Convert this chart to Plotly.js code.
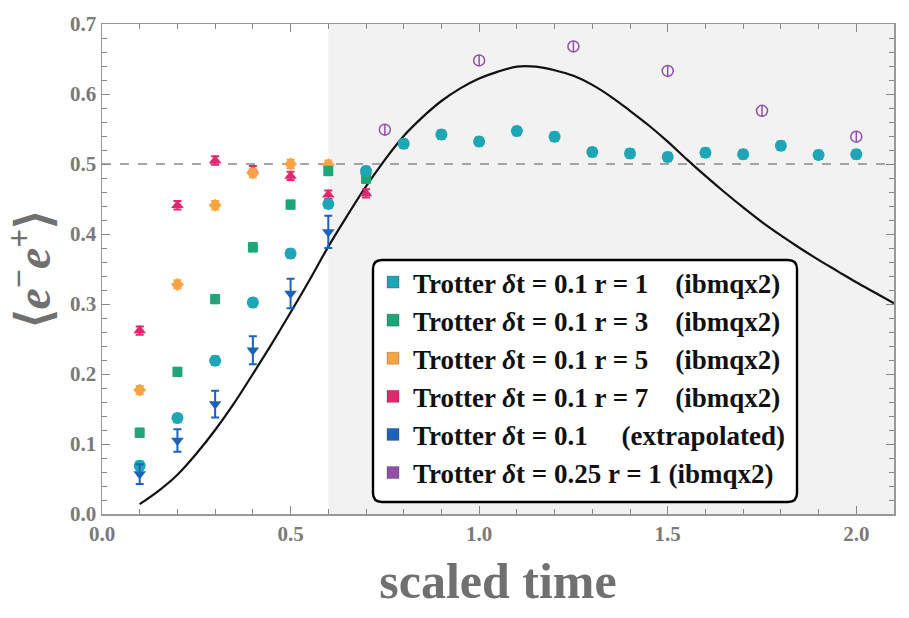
<!DOCTYPE html>
<html>
<head>
<meta charset="utf-8">
<script src="https://cdn.plot.ly/plotly-3.0.1.min.js"></script>
<style>html,body{margin:0;padding:0;background:#fff;}#chart{width:909px;height:618px;}</style>
</head>
<body>
<div id="chart"></div>
<script>
// ---- data ----
const timesR1 = [0.1,0.2,0.3,0.4,0.5,0.6,0.7,0.8,0.9,1.0,1.1,1.2,1.3,1.4,1.5,1.6,1.7,1.8,1.9,2.0];
const valsR1  = [0.069,0.137,0.219,0.302,0.372,0.443,0.490,0.529,0.542,0.532,0.547,0.539,0.517,0.515,0.510,0.516,0.514,0.526,0.513,0.514];
const timesShort = [0.1,0.2,0.3,0.4,0.5,0.6,0.7];
const valsR3 = [0.116,0.203,0.307,0.381,0.442,0.490,0.479];
const valsR5 = [0.177,0.328,0.441,0.487,0.500,0.499,0.486];
const valsR7 = [0.262,0.441,0.505,0.491,0.483,0.456,0.458];
const timesExtrap = [0.1,0.2,0.3,0.4,0.5,0.6];
const valsExtrap  = [0.057,0.105,0.157,0.234,0.315,0.403];
const errExtrap   = [0.014,0.016,0.019,0.020,0.021,0.023];
const timesDt25 = [0.75,1.0,1.25,1.5,1.75,2.0];
const valsDt25  = [0.549,0.648,0.668,0.633,0.576,0.539];
const errSmall = 0.006;
const errDt25  = 0.008;
const exactT = [0.10,0.15,0.20,0.25,0.30,0.35,0.40,0.45,0.50,0.55,0.60,0.65,0.70,0.75,0.80,0.85,0.90,0.95,1.00,1.05,1.10,1.15,1.20,1.25,1.30,1.35,1.40,1.45,1.50,1.55,1.60,1.65,1.70,1.75,1.80,1.85,1.90,1.95,2.00,2.05,2.10];
const exactV = [0.014,0.033,0.056,0.086,0.120,0.158,0.200,0.243,0.288,0.334,0.382,0.426,0.468,0.506,0.540,0.567,0.590,0.608,0.622,0.632,0.639,0.639,0.634,0.626,0.613,0.596,0.576,0.555,0.532,0.507,0.483,0.460,0.438,0.417,0.398,0.380,0.363,0.347,0.331,0.316,0.301];
const tickVals = [0, 0.5, 1.0, 1.5, 2.0];
const tickText = ['0.0','0.5','1.0','1.5','2.0'];

const legendNames = [
  '<b>Trotter <i>δ</i>t = 0.1 r = 1    (ibmqx2)</b>',
  '<b>Trotter <i>δ</i>t = 0.1 r = 3    (ibmqx2)</b>',
  '<b>Trotter <i>δ</i>t = 0.1 r = 5    (ibmqx2)</b>',
  '<b>Trotter <i>δ</i>t = 0.1 r = 7    (ibmqx2)</b>',
  '<b>Trotter <i>δ</i>t = 0.1     (extrapolated)</b>',
  '<b>Trotter <i>δ</i>t = 0.25 r = 1 (ibmqx2)</b>'
];
const colors = ['#1fa6b6','#1ea677','#f9a443','#e2266f','#1b63b9','#9150a6'];

function errArr(n, v){ const a=[]; for(let i=0;i<n;i++) a.push(v); return a; }

const traces = [];
traces.push({x: exactT, y: exactV, mode:'lines', line:{color:'#111', width:2.2, shape:'spline', smoothing:1}, showlegend:false, hoverinfo:'skip'});

function pts(x, y, err, color, symbol, size){
  return {
    x: x, y: y, mode:'markers', showlegend:false,
    marker:{color:color, symbol:symbol, size:size},
    error_y:{type:'data', array:err, color:color, thickness:2, width:4}
  };
}
traces.push(pts(timesShort, valsR7, errArr(7, errSmall), colors[3], 'triangle-up', 11));
traces.push(pts(timesShort, valsR5, errArr(7, errSmall), colors[2], 'diamond', 10));
traces.push(pts(timesShort, valsR3, errArr(7, errSmall), colors[1], 'square', 10));
traces.push(pts(timesR1, valsR1, errArr(20, errSmall), colors[0], 'circle', 12));
traces.push(pts(timesExtrap, valsExtrap, errExtrap, colors[4], 'triangle-down', 11));
traces.push({x: timesDt25, y: valsDt25, mode:'markers', showlegend:false,
  marker:{color:colors[5], symbol:'circle-open', size:11, line:{width:1.5, color:colors[5]}},
  error_y:{type:'data', array:errArr(6, errDt25), color:colors[5], thickness:1.5, width:0}});

legendNames.forEach((nm, i) => {
  traces.push({x:[null], y:[null], mode:'markers', name:nm, legendgroup:'g'+i,
    marker:{color:colors[i], symbol:'square', size:12, line:{width:0.6, color:'rgba(0,0,0,0.35)'}}});
});

const axisFont = {family:'Liberation Serif', size:21, color:'#7a7a7a', weight:'bold'};
const L = 102, R = 894, T = 24, B = 514, W = 909, H = 618;
const pw = R - L, ph = B - T;
const bx0 = (373 - L)/pw, bx1 = (797 - L)/pw, byT = (B - 260)/ph, byB = (B - 502)/ph;
const rx = 9/pw, ry = 9/ph;
const boxPath = `M ${bx0+rx} ${byT} L ${bx1-rx} ${byT} Q ${bx1} ${byT} ${bx1} ${byT-ry} L ${bx1} ${byB+ry} Q ${bx1} ${byB} ${bx1-rx} ${byB} L ${bx0+rx} ${byB} Q ${bx0} ${byB} ${bx0} ${byB+ry} L ${bx0} ${byT-ry} Q ${bx0} ${byT} ${bx0+rx} ${byT} Z`;

const layout = {
  width: W, height: H,
  font: {family:'Liberation Serif'},
  margin: {l: L, r: W - R, t: T, b: H - B},
  paper_bgcolor:'#ffffff', plot_bgcolor:'#ffffff',
  showlegend: true,
  legend: {x: bx0, y: byT + 2/ph, xanchor:'left', yanchor:'top', bgcolor:'rgba(0,0,0,0)', borderwidth:0,
    font:{family:'Liberation Serif', size:27, color:'#111111'}, tracegroupgap:0},
  xaxis: {
    range:[0, 2.1], tickvals: tickVals, ticktext: tickText, ticks:'inside', ticklen:8, tickwidth:1, tickcolor:'#888',
    showline:true, linecolor:'#999', linewidth:1.5, mirror:'allticks', showgrid:false, zeroline:false,
    tickfont: axisFont,
    minor:{dtick:0.1, tick0:0, ticks:'inside', ticklen:5, tickcolor:'#888', showgrid:false},
    title:{text:'scaled time', font:{family:'Liberation Serif', size:50, color:'#707070', weight:'bold'}, standoff:18}
  },
  yaxis: {
    range:[0, 0.7], dtick:0.1, tick0:0, tickformat:'.1f', ticks:'inside', ticklen:8, tickwidth:1, tickcolor:'#888',
    showline:true, linecolor:'#999', linewidth:1.5, mirror:'allticks', showgrid:false, zeroline:false,
    tickfont: axisFont,
    minor:{dtick:0.02, tick0:0, ticks:'inside', ticklen:5, tickcolor:'#888', showgrid:false},
    title:{text:'⟨<i>e</i><sup>−</sup><i>e</i><sup>+</sup>⟩', font:{family:'Liberation Serif', size:48, color:'#707070', weight:'bold'}, standoff:8}
  },
  shapes: [
    {type:'rect', xref:'x', yref:'paper', x0:0.6, x1:2.1, y0:0, y1:1, fillcolor:'#f2f2f2', line:{width:0}, layer:'below'},
    {type:'line', xref:'paper', yref:'y', x0:0, x1:1, y0:0.5, y1:0.5, line:{color:'#8a8a8a', width:1.5, dash:'dash'}, layer:'below'},
    {type:'path', xref:'paper', yref:'paper', path: boxPath, fillcolor:'#ffffff', line:{color:'#000', width:2.4}, layer:'above'}
  ]
};

Plotly.newPlot('chart', traces, layout, {displayModeBar:false, staticPlot:true});
</script>
</body>
</html>
